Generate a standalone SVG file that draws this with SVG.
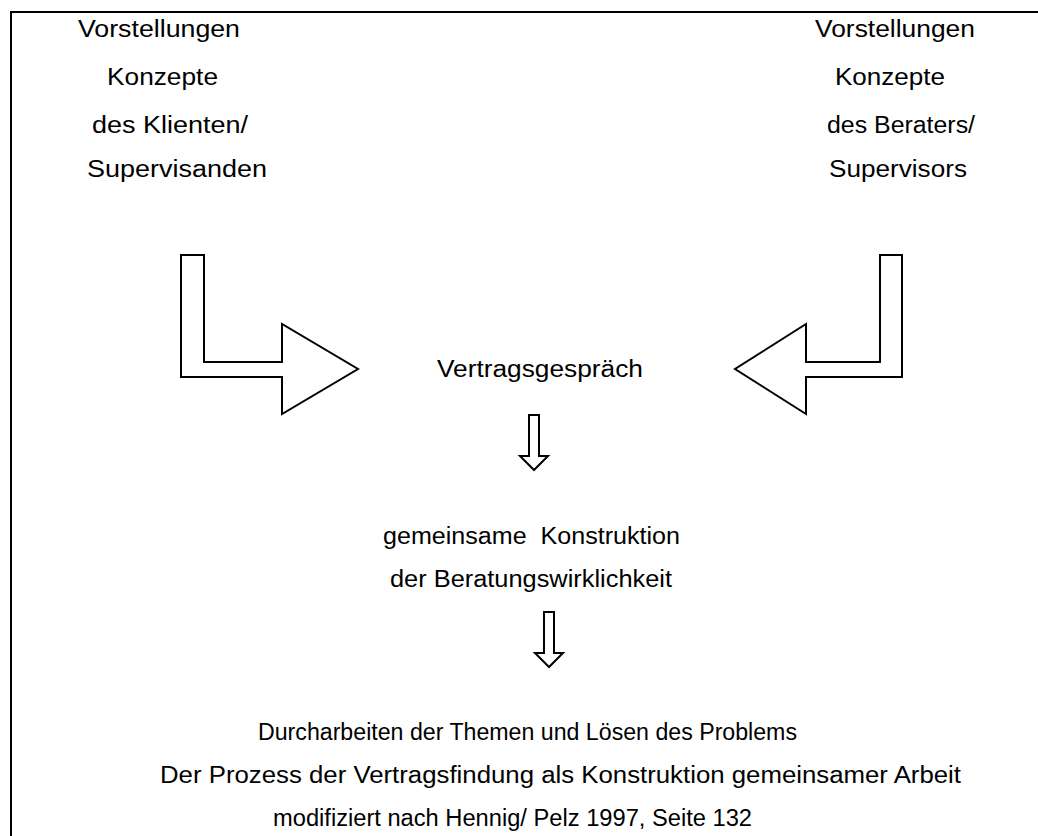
<svg xmlns="http://www.w3.org/2000/svg" width="1038" height="836" viewBox="0 0 1038 836">
<style>
text{font-family:"Liberation Sans",Arial,sans-serif;font-size:23px;fill:#000;white-space:pre}
.ar{fill:#fff;stroke:#000;stroke-width:2;stroke-linejoin:miter}
.frame{fill:none;stroke:#000;stroke-width:2}
</style>
<rect width="1038" height="836" fill="#fff"/>
<path class="frame" d="M11,836 V12 H1038"/>
<g id="client">
<text x="78" y="37" textLength="162" lengthAdjust="spacingAndGlyphs">Vorstellungen</text>
<text x="107" y="85" textLength="111" lengthAdjust="spacingAndGlyphs">Konzepte</text>
<text x="92" y="133" textLength="156" lengthAdjust="spacingAndGlyphs">des Klienten/</text>
<text x="87" y="177" textLength="180" lengthAdjust="spacingAndGlyphs">Supervisanden</text>
</g>
<g id="berater">
<text x="815" y="37" textLength="160" lengthAdjust="spacingAndGlyphs">Vorstellungen</text>
<text x="835" y="85" textLength="110" lengthAdjust="spacingAndGlyphs">Konzepte</text>
<text x="827" y="133" textLength="148" lengthAdjust="spacingAndGlyphs">des Beraters/</text>
<text x="829" y="177" textLength="138" lengthAdjust="spacingAndGlyphs">Supervisors</text>
</g>
<g id="vertrag">
<text x="437" y="377" textLength="206" lengthAdjust="spacingAndGlyphs">Vertragsgespräch</text>
</g>
<g id="konstruktion">
<text x="383" y="544" textLength="297" lengthAdjust="spacingAndGlyphs" xml:space="preserve">gemeinsame  Konstruktion</text>
<text x="390" y="587" textLength="282" lengthAdjust="spacingAndGlyphs">der Beratungswirklichkeit</text>
</g>
<g id="durcharbeiten">
<text x="258" y="740" textLength="539" lengthAdjust="spacingAndGlyphs">Durcharbeiten der Themen und Lösen des Problems</text>
<text x="160" y="783" textLength="801" lengthAdjust="spacingAndGlyphs">Der Prozess der Vertragsfindung als Konstruktion gemeinsamer Arbeit</text>
<text x="273" y="826" textLength="479" lengthAdjust="spacingAndGlyphs">modifiziert nach Hennig/ Pelz 1997, Seite 132</text>
</g>
<g id="connectors">
<polygon class="ar" points="181,255 204,255 204,362 282,362 282,324 358,369 282,414 282,377 181,377"/>
<polygon class="ar" points="902,255 880,255 880,362 806,362 806,324 735,369 806,414 806,377 902,377"/>
<polygon class="ar" points="529,415 539,415 539,456 548,456 534,470 520,456 529,456"/>
<polygon class="ar" points="544,612 554,612 554,653 563,653 549,667 535,653 544,653"/>
</g>
</svg>
